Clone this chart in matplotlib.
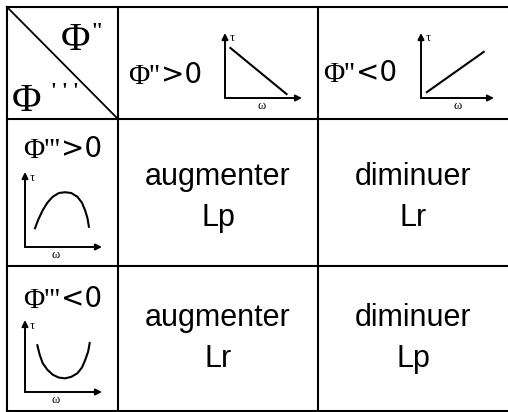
import matplotlib.pyplot as plt

# table content
col_heads = [("Φ''", ">0"), ("Φ''", "<0")]
row_heads = [("Φ'''", ">0"), ("Φ'''", "<0")]
cells = [[("augmenter", "Lp"), ("diminuer", "Lr")],
         [("augmenter", "Lr"), ("diminuer", "Lp")]]

# sketch curves tau(omega) (axes fraction)
col_w = [[0.07, 0.80], [0.08, 0.86]]
col_tau = [[0.77, 0.06], [0.09, 0.71]]
row_w = [[0.13, 0.17, 0.23, 0.29, 0.36, 0.44, 0.52, 0.60, 0.68, 0.74, 0.78, 0.81, 0.83],
         [0.16, 0.19, 0.23, 0.29, 0.36, 0.44, 0.52, 0.60, 0.68, 0.74, 0.78, 0.82, 0.84]]
row_tau = [[0.25, 0.36, 0.49, 0.59, 0.67, 0.72, 0.73, 0.72, 0.67, 0.59, 0.49, 0.39, 0.27],
           [0.65, 0.52, 0.40, 0.31, 0.24, 0.20, 0.19, 0.21, 0.26, 0.34, 0.44, 0.56, 0.68]]

W, H = 508, 412
xs = [7, 118, 318, 508]
ys = [7, 119, 266, 411]
baselines = [[185, 226], [326, 367]]

SANS = 'Liberation Sans'
SERIF = 'Liberation Serif'

fig = plt.figure(figsize=(W / 100, H / 100), dpi=100)
ax = fig.add_axes([0, 0, 1, 1])
ax.set_xlim(0, W)
ax.set_ylim(H, 0)
ax.axis('off')

# grid
for x in xs[:-1]:
    ax.plot([x, x], [ys[0], ys[-1]], color='black', lw=1.5)
for y in ys:
    ax.plot([xs[0], xs[-1]], [y, y], color='black', lw=1.5)
ax.plot([xs[0], xs[1]], [ys[0], ys[1]], color='black', lw=1.3)

# corner labels
ax.text(61, 50, "Φ", family=SERIF, fontsize=29, ha='left', va='baseline')
ax.text(91, 37, "''", family=SERIF, fontsize=15, fontweight='bold', ha='left', va='baseline')
ax.text(12, 111, "Φ", family=SERIF, fontsize=29, ha='left', va='baseline')
ax.text(51, 97, "' ' '", family=SERIF, fontsize=15, fontweight='bold', ha='left', va='baseline')


def head(xj, yb, phi, sign):
    ax.text(xj, yb + 1, phi, family=SERIF, fontsize=21, ha='right', va='baseline')
    ax.text(xj + 1, yb, sign, family='DejaVu Sans', fontsize=20, ha='left', va='baseline')


def sketch(left, bottom, w, h, om, tau, wlab):
    a = fig.add_axes([left / W, (H - bottom) / H, w / W, h / H])
    a.set_xlim(0, 1)
    a.set_ylim(0, 1)
    a.axis('off')
    a.plot(om, tau, color='black', lw=1.5)
    arr = dict(arrowstyle='-|>', color='black', lw=1.4, mutation_scale=9, shrinkA=0, shrinkB=0)
    a.annotate('', xy=(1, 0), xytext=(0, 0), xycoords='axes fraction', arrowprops=arr)
    a.annotate('', xy=(0, 1), xytext=(0, 0), xycoords='axes fraction', arrowprops=arr)
    a.text(0.06, 0.92, "τ", family=SERIF, fontsize=9, ha='left', va='center', transform=a.transAxes)
    a.text(wlab, -0.03, "ω", family=SERIF, fontsize=9, ha='center', va='top', transform=a.transAxes)


# column headers
head(160, 83, *col_heads[0])
head(355, 81, *col_heads[1])
sketch(225, 98, 77, 65, col_w[0], col_tau[0], 0.47)
sketch(421, 98, 73, 65, col_w[1], col_tau[1], 0.5)

# row headers
head(60, 157, *row_heads[0])
head(60, 307, *row_heads[1])
sketch(25, 247, 77, 75, row_w[0], row_tau[0], 0.4)
sketch(25, 392, 77, 72, row_w[1], row_tau[1], 0.4)

# body
for i in range(2):
    for j in range(2):
        cx = (xs[j + 1] + xs[j + 2]) / 2
        for k in range(2):
            ax.text(cx, baselines[i][k], cells[i][j][k], family=SANS, fontsize=22,
                    ha='center', va='baseline')

fig.savefig('out.png', dpi=100)
